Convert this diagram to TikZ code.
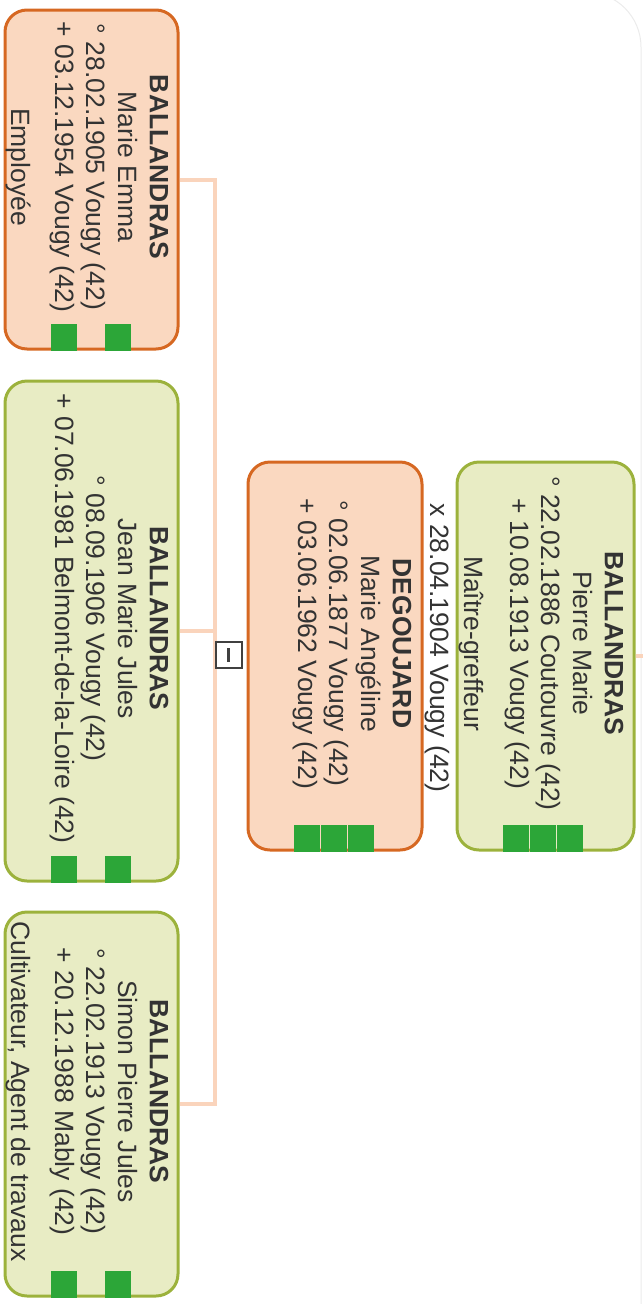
\documentclass[tikz,border=0pt]{standalone}
\usepackage{fontspec}
\setmainfont{Liberation Sans}
\usetikzlibrary{calc}
\definecolor{femfill}{RGB}{250,216,192}
\definecolor{femline}{RGB}{214,104,34}
\definecolor{manfill}{RGB}{232,236,196}
\definecolor{manline}{RGB}{156,178,60}
\definecolor{srcgreen}{RGB}{44,166,56}
\definecolor{linkcol}{RGB}{250,212,188}
\definecolor{txt}{RGB}{51,51,51}

\begin{document}
\begin{tikzpicture}[x=1pt, y=-1pt,
        person/.style={draw, line width=3pt, rounded corners=22pt, inner sep=0pt},
        fem/.style={person, draw=femline, fill=femfill},
        man/.style={person, draw=manline, fill=manfill},
        info/.style={rotate=-90, anchor=north, align=center, inner sep=0pt, text=txt,
            font=\fontsize{26.5}{31.5}\selectfont},
        job/.style={rotate=-90, anchor=base, inner sep=0pt, text=txt,
            font=\fontsize{26.5}{31.5}\selectfont},
        link/.style={draw=linkcol, line width=4pt}]
        \useasboundingbox (0,0) rectangle (643,1304);
        \draw[black!8, line width=1pt, rounded corners=55pt] (520,-8) -| (641,1310);

        \node[fem, minimum width=173pt, minimum height=339pt] (marie) at (91.5,179.5) {};
        \node[man, minimum width=173pt, minimum height=500pt] (jean) at (91.5,631) {};
        \node[man, minimum width=173pt, minimum height=384pt] (simon) at (91.5,1104) {};
        \node[fem, minimum width=174pt, minimum height=388pt] (ange) at (335,656) {};
        \node[man, minimum width=177pt, minimum height=388pt] (pierre) at (545.5,656) {};

        \node[info] (marieinfo) at ($(marie.east)+(-11,-12.5)$)
            {\textbf{BALLANDRAS}\\Marie Emma\\° 28.02.1905 Vougy (42)\\+ 03.12.1954 Vougy (42)};
        \node[job] (mariejob) at ($(marie.west)+(8,-12.5)$) {Employée};
        \node[info] (jeaninfo) at ($(jean.east)+(-11,-12.5)$)
            {\textbf{BALLANDRAS}\\Jean Marie Jules\\° 08.09.1906 Vougy (42)\\+ 07.06.1981 Belmont-de-la-Loire (42)};
        \node[info] (simoninfo) at ($(simon.east)+(-11,-12.5)$)
            {\textbf{BALLANDRAS}\\Simon Pierre Jules\\° 22.02.1913 Vougy (42)\\+ 20.12.1988 Mably (42)};
        \node[job] (simonjob) at ($(simon.west)+(8,-12.5)$) {Cultivateur, Agent de travaux};
        \node[info] (angeinfo) at ($(ange.east)+(-12,-12.5)$)
            {\textbf{DEGOUJARD}\\Marie Angéline\\° 02.06.1877 Vougy (42)\\+ 03.06.1962 Vougy (42)};
        \node[info] (pierreinfo) at ($(pierre.east)+(-12,-12.5)$)
            {\textbf{BALLANDRAS}\\Pierre Marie\\° 22.02.1886 Coutouvre (42)\\+ 10.08.1913 Vougy (42)};
        \node[job] (pierrejob) at ($(pierre.west)+(9,-12.5)$) {Maître-greffeur};

        \foreach \n/\s in {marie/0, marie/2, jean/0, jean/2, simon/0, simon/2,
                ange/0, ange/1, ange/2, pierre/0, pierre/1, pierre/2}
            \fill[srcgreen] ($(\n.south west)+(47+27*\s,0)$) rectangle +(26,-27);

        \node[rotate=-90, text=txt, font=\fontsize{26.5}{31.5}\selectfont] (wed) at (437,648)
            {x 28.04.1904 Vougy (42)};

        \draw[link] (marie.east) -- ++(35,0) |- (simon.east);
        \draw[link] (jean.east) -- ++(35,0);
        \coordinate (exit) at (643,656);
        \draw[link] (pierre.east) -- (exit);

        \node[draw=black!75, line width=2pt, minimum size=26pt, inner sep=0pt] (fold) at (228.5,655) {};
        \draw[black!75, line width=2.5pt] ($(fold.center)+(0,-7)$) -- ($(fold.center)+(0,7)$);
    \end{tikzpicture}
\end{document}
